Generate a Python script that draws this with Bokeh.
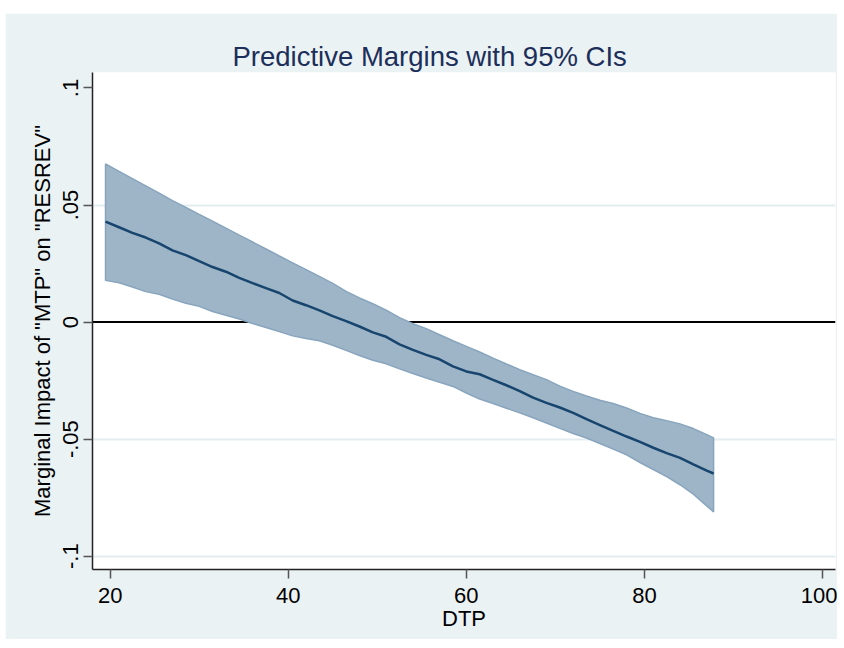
from bokeh.plotting import figure
from bokeh.models import Range1d, FixedTicker, Span, ColumnDataSource
from bokeh.embed import file_html
from bokeh.resources import INLINE

# ---- data ----
dtp = [19.48, 21, 22.5, 24, 25.5, 27, 28.5, 30, 31.5, 33, 34.5, 36, 37.5, 39,
       40.5, 42, 43.5, 45, 46.5, 48, 49.5, 51, 52.5, 54, 55.5, 57, 58.5, 60,
       61.5, 63, 64.5, 66, 67.5, 69, 70.5, 72, 73.5, 75, 76.5, 78, 79.5, 81,
       82.5, 84, 85.5, 87, 87.77]

margin = [0.0429, 0.0405, 0.0381, 0.0361, 0.0336, 0.0306, 0.0286, 0.0260,
          0.0235, 0.0215, 0.0189, 0.0166, 0.0145, 0.0124, 0.0092, 0.0072,
          0.0050, 0.0025, 0.0004, -0.0019, -0.0044, -0.0063, -0.0095, -0.0119,
          -0.0140, -0.0159, -0.0189, -0.0211, -0.0223, -0.0247, -0.0270,
          -0.0295, -0.0323, -0.0345, -0.0365, -0.0388, -0.0415, -0.0440,
          -0.0465, -0.0489, -0.0512, -0.0537, -0.0560, -0.0580, -0.0608,
          -0.0635, -0.0647]

upper = [0.0675, 0.0644, 0.0613, 0.0582, 0.0551, 0.0519, 0.0490, 0.0460,
         0.0431, 0.0401, 0.0371, 0.0342, 0.0312, 0.0282, 0.0253, 0.0224,
         0.0195, 0.0165, 0.0131, 0.0103, 0.0078, 0.0051, 0.0019, -0.0007,
         -0.0028, -0.0054, -0.0080, -0.0104, -0.0128, -0.0154, -0.0179,
         -0.0203, -0.0225, -0.0246, -0.0274, -0.0296, -0.0316, -0.0334,
         -0.0348, -0.0367, -0.0390, -0.0409, -0.0421, -0.0435, -0.0455,
         -0.0481, -0.0495]

lower = [0.0178, 0.0168, 0.0150, 0.0130, 0.0119, 0.0098, 0.0080, 0.0067,
         0.0045, 0.0029, 0.0013, -0.0006, -0.0023, -0.0041, -0.0059, -0.0070,
         -0.0080, -0.0099, -0.0121, -0.0143, -0.0163, -0.0178, -0.0200,
         -0.0220, -0.0239, -0.0257, -0.0275, -0.0303, -0.0329, -0.0348,
         -0.0368, -0.0388, -0.0409, -0.0431, -0.0454, -0.0476, -0.0495,
         -0.0519, -0.0543, -0.0567, -0.0600, -0.0630, -0.0660, -0.0695,
         -0.0735, -0.0785, -0.0811]

x_ticks = [20, 40, 60, 80, 100]
y_ticks = [-0.1, -0.05, 0, 0.05, 0.1]
y_tick_labels = {-0.1: "-.1", -0.05: "-.05", 0: "0", 0.05: ".05", 0.1: ".1"}
y_grid = [-0.1, -0.05, 0.05]

FONT = "Liberation Sans"
BG = "#EAF2F3"

p = figure(width=832, height=626, output_backend="svg", toolbar_location=None,
           x_range=Range1d(18.02, 101.46), y_range=Range1d(-0.1057, 0.1066),
           min_border_left=87, min_border_right=2, min_border_top=59,
           min_border_bottom=70)
p.margin = (13, 0, 0, 5)
p.border_fill_color = BG
p.background_fill_color = "white"
p.outline_line_color = None

# title
p.title.text = "Predictive Margins with 95% CIs"
p.title.align = "left"
p.title.text_font = FONT
p.title.text_font_size = "27.5px"
p.title.text_font_style = "normal"
p.title.text_color = "#1C2E5A"
p.title.offset = 140
p.title.standoff = 2

# grid
p.xgrid.grid_line_color = None
p.ygrid.ticker = FixedTicker(ticks=y_grid)
p.ygrid.grid_line_color = "#E3EDF1"
p.ygrid.grid_line_width = 2

# axes
for ax in (p.xaxis[0], p.yaxis[0]):
    ax.axis_line_color = "#222222"
    ax.axis_line_width = 1.5
    ax.major_tick_line_color = "#555555"
    ax.major_tick_line_width = 1.5
    ax.major_tick_out = 9
    ax.major_tick_in = 0
    ax.minor_tick_line_color = None
    ax.major_label_text_font = FONT
    ax.major_label_text_font_size = "22px"
    ax.major_label_text_color = "black"
    ax.axis_label_text_font = FONT
    ax.axis_label_text_font_size = "22px"
    ax.axis_label_text_font_style = "normal"
    ax.axis_label_text_color = "black"

p.xaxis.ticker = FixedTicker(ticks=x_ticks)
p.xaxis.axis_label = "DTP"
p.xaxis.major_label_standoff = 9
p.xaxis.axis_label_standoff = 0

p.yaxis.ticker = FixedTicker(ticks=y_ticks)
p.yaxis.major_label_overrides = y_tick_labels
p.yaxis.major_label_orientation = "vertical"
p.yaxis.axis_label = 'Marginal Impact of "MTP" on "RESREV"'
p.yaxis.major_label_standoff = 5
p.yaxis.axis_label_standoff = 6

# zero reference line (below the band)
zero = Span(location=0, dimension="width", line_color="black", line_width=2,
            level="underlay")
p.add_layout(zero)

# confidence band
band_x = dtp + dtp[::-1]
band_y = upper + lower[::-1]
p.patch(band_x, band_y, fill_color="#9EB5C8", fill_alpha=1.0,
        line_color="#88A5BD", line_width=1.5)

# margins line
src = ColumnDataSource(dict(x=dtp, y=margin))
p.line("x", "y", source=src, line_color="#17456E", line_width=2.5)

open("out.html", "w").write(file_html(p, INLINE))
